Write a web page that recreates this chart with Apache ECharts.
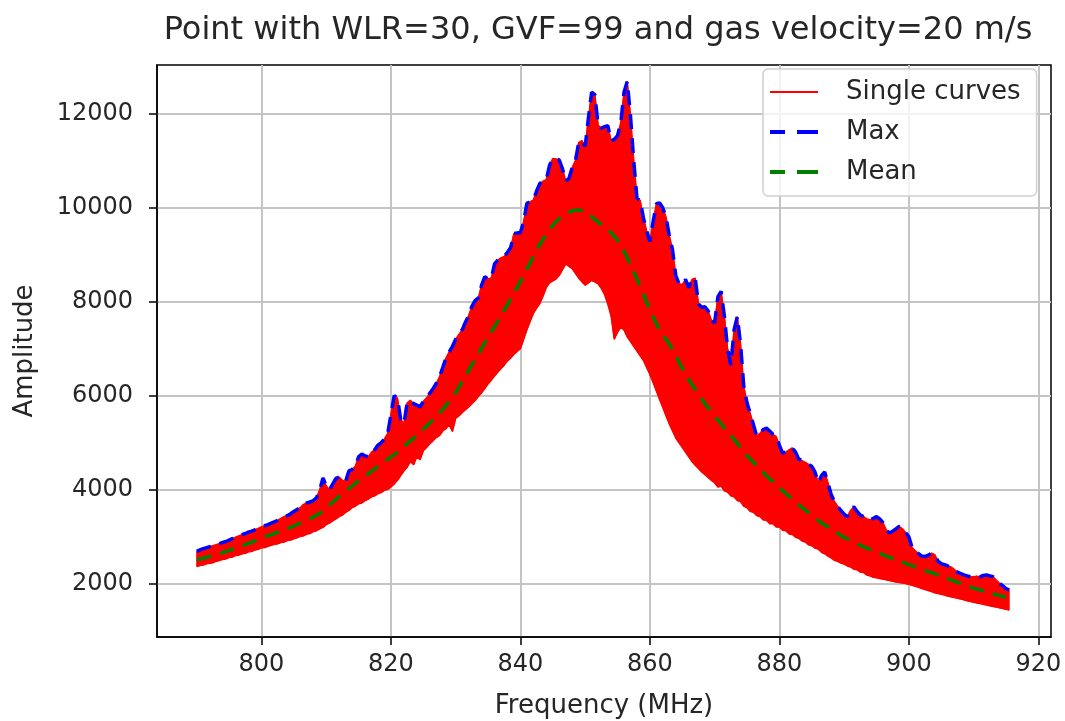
<!DOCTYPE html>
<html>
<head>
<meta charset="utf-8">
<title>Resonance curves</title>
<script src="https://cdn.jsdelivr.net/npm/echarts@6/dist/echarts.min.js"></script>
<style>
  html, body { margin: 0; padding: 0; background: #fff; }
  #chart { width: 1065px; height: 721px; }
</style>
</head>
<body>
<div id="chart"></div>
<script>
// Sampling grid of the sweeps (MHz)
const FREQ_START = 790;
const FREQ_STEP = 0.5;       // fine grid used by the envelope curves
const MEAN_STEP = 1;         // grid of the averaged curve

// Maximum over all sweeps, one value per 0.5 MHz from 790 MHz
const maxAmp = [
  2690, 2720, 2750, 2770, 2790, 2810, 2830, 2855, 2880, 2900,
  2930, 2960, 2990, 3020, 3045, 3070, 3100, 3120, 3150, 3180,
  3210, 3235, 3260, 3290, 3320, 3350, 3390, 3430, 3450, 3490,
  3540, 3580, 3620, 3690, 3720, 3740, 3770, 3830, 4000, 4250,
  4080, 4000, 4120, 4240, 4270, 4200, 4180, 4400, 4430, 4500,
  4700, 4760, 4720, 4700, 4800, 4850, 4950, 5000, 5080, 5200,
  5600, 6000, 5950, 5500, 5400, 5850, 5900, 5830, 5800, 5760,
  5880, 5950, 6050, 6150, 6260, 6400, 6600, 6800, 6930, 7050,
  7200, 7300, 7400, 7560, 7700, 7900, 8020, 8080, 8350, 8530,
  8480, 8500, 8800, 8880, 8930, 8960, 9050, 9150, 9450, 9460,
  9470, 9700, 10090, 10120, 10160, 10350, 10510, 10560, 10590, 10900,
  11040, 11030, 11010, 10820, 10560, 10620, 10850, 11000, 11380, 11420,
  11300, 11900, 12450, 12400, 11750, 11690, 11720, 11740, 11420, 11450,
  11530, 11800, 12450, 12680, 11950, 11000, 10200, 10150, 9780, 9500,
  9280, 9700, 10080, 10100, 9990, 9790, 9400, 9100, 8550, 8380,
  8360, 8470, 8300, 8470, 8500, 7950, 7880, 7890, 7800, 7600,
  7550, 8100, 8220, 7700, 7000, 6650, 7400, 7680, 7100, 6200,
  5850, 5620, 5380, 5140, 5200, 5280, 5310, 5250, 5180, 5130,
  4950, 4780, 4800, 4850, 4890, 4800, 4650, 4620, 4580, 4540,
  4500, 4380, 4150, 4300, 4380, 4150, 3900, 3750, 3650, 3560,
  3480, 3430, 3560, 3640, 3540, 3460, 3430, 3380, 3360, 3390,
  3430, 3380, 3300, 3150, 3080, 3120, 3170, 3220, 3170, 3090,
  3000, 2770, 2700, 2640, 2590, 2580, 2610, 2650, 2620, 2480,
  2430, 2410, 2380, 2360, 2310, 2250, 2220, 2190, 2170, 2150,
  2150, 2160, 2150, 2180, 2190, 2170, 2150, 2080, 2010, 1960,
  1900, 1870
];

// Lowest of the single sweeps, same grid as maxAmp
const minAmp = [
  2370, 2390, 2400, 2425, 2440, 2450, 2480, 2495, 2520, 2530,
  2560, 2570, 2600, 2610, 2640, 2650, 2680, 2690, 2720, 2735,
  2765, 2770, 2800, 2820, 2840, 2850, 2880, 2890, 2920, 2930,
  2960, 2980, 3010, 3020, 3060, 3070, 3110, 3130, 3170, 3200,
  3260, 3290, 3340, 3380, 3430, 3460, 3520, 3560, 3620, 3650,
  3700, 3720, 3770, 3800, 3850, 3870, 3920, 3940, 3990, 4010,
  4060, 4120, 4200, 4300, 4400, 4480, 4600, 4530, 4700, 4640,
  4830, 4900, 4980, 5040, 5110, 5150, 5250, 5300, 5380, 5240,
  5520, 5570, 5640, 5700, 5760, 5830, 5900, 5980, 6060, 6150,
  6250, 6330, 6420, 6500, 6580, 6650, 6740, 6800, 6880, 6940,
  7000, 7200, 7400, 7580, 7750, 7860, 7960, 8120, 8300, 8400,
  8440, 8480, 8560, 8680, 8800, 8750, 8700, 8600, 8500, 8420,
  8350, 8400, 8450, 8420, 8380, 8280, 8150, 7950, 7700, 7200,
  7350, 7450, 7400, 7250, 7150, 7050, 6950, 6850, 6750, 6600,
  6450, 6280, 6100, 5920, 5750, 5570, 5400, 5250, 5100, 5000,
  4900, 4800, 4700, 4600, 4520, 4450, 4380, 4320, 4260, 4200,
  4150, 4060, 4080, 3980, 3950, 3870, 3850, 3770, 3750, 3650,
  3620, 3540, 3520, 3450, 3430, 3360, 3350, 3280, 3280, 3210,
  3210, 3140, 3130, 3060, 3050, 2990, 2970, 2910, 2890, 2830,
  2810, 2760, 2740, 2670, 2640, 2590, 2550, 2500, 2480, 2440,
  2420, 2380, 2360, 2310, 2300, 2250, 2240, 2190, 2170, 2140,
  2130, 2115, 2100, 2085, 2070, 2055, 2040, 2030, 2020, 2005,
  1990, 1970, 1950, 1925, 1900, 1880, 1860, 1835, 1810, 1795,
  1780, 1760, 1740, 1725, 1710, 1695, 1680, 1660, 1640, 1625,
  1610, 1595, 1580, 1565, 1550, 1535, 1520, 1505, 1490, 1475,
  1460, 1445
];

// Mean over all sweeps, one value per MHz from 790 MHz
const meanAmp = [
  2510, 2545, 2585, 2625, 2665, 2710, 2760, 2810, 2860, 2915,
  2970, 3020, 3070, 3120, 3170, 3230, 3290, 3350, 3420, 3500,
  3610, 3740, 3860, 3970, 4080, 4190, 4290, 4390, 4500, 4600,
  4700, 4800, 4920, 5040, 5160, 5290, 5420, 5560, 5710, 5880,
  6070, 6300, 6540, 6780, 7010, 7240, 7470, 7700, 7940, 8180,
  8430, 8690, 8960, 9220, 9430, 9620, 9770, 9870, 9930, 9950,
  9910, 9800, 9690, 9590, 9470, 9300, 9070, 8790, 8480, 8150,
  7830, 7530, 7290, 7100, 6850, 6580, 6340, 6130, 5930, 5740,
  5560, 5400, 5230, 5070, 4900, 4730, 4580, 4440, 4300, 4170,
  4040, 3920, 3800, 3680, 3570, 3460, 3350, 3250, 3160, 3070,
  2990, 2920, 2850, 2790, 2730, 2670, 2620, 2560, 2510, 2460,
  2410, 2360, 2310, 2260, 2210, 2160, 2110, 2060, 2010, 1960,
  1910, 1870, 1830, 1790, 1750, 1720
];

const TITLE = 'Point with WLR=30, GVF=99 and gas velocity=20 m/s';
const X_NAME = 'Frequency (MHz)';
const Y_NAME = 'Amplitude';
const LEGEND_NAMES = ['Single curves', 'Max', 'Mean'];

// Pair each value with its frequency on the sweep grid
function pairs(values, start, step) {
  return values.map((v, i) => [start + i * step, v]);
}
const maxPts = pairs(maxAmp, FREQ_START, FREQ_STEP);
const minPts = pairs(minAmp, FREQ_START, FREQ_STEP);
const meanPts = pairs(meanAmp, FREQ_START, MEAN_STEP);

const FONT = 'DejaVu Sans';
const TEXT_COLOR = '#262626';
const RED = '#ff0000';

// Legend glyphs: a thin solid stroke and a two-dash stroke (48 x 4 box)
const ICON_SOLID = 'path://M0,1H48V3H0Z M0,0H0.01V0.01H0Z M0,3.99H0.01V4H0Z';
const ICON_DASHED = 'path://M0,0H15V4H0Z M27,0H48V4H27Z';

const chart = echarts.init(document.getElementById('chart'), null, { renderer: 'canvas' });

const gridLine = { show: true, showMinLine: false, showMaxLine: false,
                   lineStyle: { color: '#c4c4c4', width: 2 } };

chart.setOption({
  animation: false,
  backgroundColor: '#ffffff',
  title: {
    text: TITLE,
    left: 593,
    textAlign: 'center',
    top: 10,
    textStyle: { fontFamily: FONT, fontSize: 32, fontWeight: 'normal', color: TEXT_COLOR }
  },
  grid: {
    left: 157, right: 14, top: 65, bottom: 84,
    containLabel: false,
    outerBoundsMode: 'none',
    show: true, borderColor: '#000', borderWidth: 1.5, backgroundColor: 'transparent'
  },
  legend: {
    data: [
      { name: LEGEND_NAMES[0], icon: ICON_SOLID },
      { name: LEGEND_NAMES[1], icon: ICON_DASHED },
      { name: LEGEND_NAMES[2], icon: ICON_DASHED }
    ],
    orient: 'vertical',
    left: 763, top: 69,
    padding: [10, 16, 11, 7],
    itemGap: 14,
    itemWidth: 48,
    itemHeight: 4,
    symbolKeepAspect: false,
    backgroundColor: 'rgba(255,255,255,0.8)',
    borderColor: '#d0d0d0', borderWidth: 1.5, borderRadius: 5,
    textStyle: { fontFamily: FONT, fontSize: 26, color: TEXT_COLOR, padding: [0, 0, 0, 23] }
  },
  xAxis: {
    type: 'value',
    min: 783.86, max: 921.96,
    splitNumber: 7,
    name: X_NAME, nameLocation: 'middle', nameGap: 56,
    nameTextStyle: { fontFamily: FONT, fontSize: 26, color: TEXT_COLOR },
    axisLine: { show: true, onZero: false, lineStyle: { color: '#000', width: 1.5 } },
    axisTick: { show: true, inside: false, length: 8, lineStyle: { color: '#000', width: 1.5 } },
    axisLabel: { showMinLabel: false, showMaxLabel: false, margin: 16,
                 fontFamily: FONT, fontSize: 24, color: TEXT_COLOR,
                 formatter: v => String(v) },
    splitLine: gridLine
  },
  yAxis: {
    type: 'value',
    min: 870, max: 13030,
    splitNumber: 6,
    name: Y_NAME, nameLocation: 'middle', nameGap: 119, nameRotate: 90,
    nameTextStyle: { fontFamily: FONT, fontSize: 26, color: TEXT_COLOR },
    axisLine: { show: true, lineStyle: { color: '#000', width: 1.5 } },
    axisTick: { show: true, inside: false, length: 8, lineStyle: { color: '#000', width: 1.5 } },
    axisLabel: { showMinLabel: false, showMaxLabel: false, margin: 24,
                 fontFamily: FONT, fontSize: 24, color: TEXT_COLOR,
                 formatter: v => String(v) },
    splitLine: gridLine
  },
  series: [
    {
      // Region covered by the individual sweeps, between the lowest sweep and the maximum
      name: 'sweep-band', type: 'custom', silent: true, clip: true, z: 2,
      data: [[FREQ_START, minAmp[0]]],
      renderItem: (params, api) => {
        const points = maxPts.map(p => api.coord(p));
        for (let i = minPts.length - 1; i >= 0; i--) points.push(api.coord(minPts[i]));
        return { type: 'polygon', shape: { points }, style: { fill: RED, stroke: RED, lineWidth: 1 } };
      }
    },
    {
      name: 'Single curves', type: 'line', data: minPts, symbol: 'none',
      lineStyle: { color: RED, width: 1.5 }, itemStyle: { color: RED }, z: 3
    },
    {
      name: 'Single curves', type: 'line', data: maxPts, symbol: 'none',
      lineStyle: { color: RED, width: 1.5 }, itemStyle: { color: RED }, z: 3
    },
    {
      name: 'Max', type: 'line', data: maxPts, symbol: 'none',
      lineStyle: { color: '#0000ff', width: 3.5, type: [15, 9] }, itemStyle: { color: '#0000ff' }, z: 4
    },
    {
      name: 'Mean', type: 'line', data: meanPts, symbol: 'none',
      lineStyle: { color: '#008000', width: 3.5, type: [15, 9] }, itemStyle: { color: '#008000' }, z: 5
    }
  ]
});
</script>
</body>
</html>
